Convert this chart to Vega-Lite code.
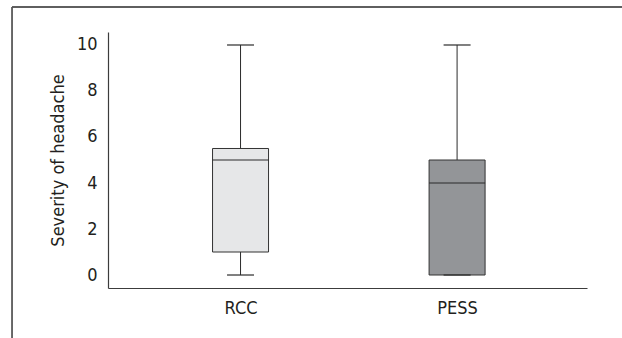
{
  "$schema": "https://vega.github.io/schema/vega-lite/v6.json",
  "width": 479,
  "height": 256,
  "autosize": {"type": "none"},
  "padding": {"left": 108, "top": 32, "right": 40, "bottom": 60},
  "background": "white",
  "config": {
    "view": {"stroke": null},
    "font": "DejaVu Sans Condensed, Liberation Sans, sans-serif",
    "axis": {"labelFont": "DejaVu Sans Condensed, Liberation Sans, sans-serif", "titleFont": "DejaVu Sans Condensed, Liberation Sans, sans-serif"}
  },
  "data": {
    "values": [
      {"group": "RCC", "min": 0, "q1": 1, "median": 5, "q3": 5.5, "max": 10},
      {"group": "PESS", "min": 0, "q1": 0, "median": 4, "q3": 5, "max": 10}
    ]
  },
  "encoding": {
    "x": {
      "field": "group",
      "type": "nominal",
      "sort": ["RCC", "PESS"],
      "scale": {"type": "point", "padding": 0.606, "align": 0.505},
      "axis": {
        "title": null,
        "labelAngle": 0,
        "ticks": false,
        "domain": true,
        "domainColor": "#3c3c3c",
        "domainWidth": 1.2,
        "labelFontSize": 18,
        "labelColor": "#231f20",
        "labelPadding": 11
      }
    }
  },
  "layer": [
    {
      "mark": {"type": "rule", "color": "#2b2b2b", "strokeWidth": 1},
      "encoding": {
        "y": {
          "field": "min",
          "type": "quantitative",
          "scale": {"domain": [-0.565, 10.565], "nice": false, "zero": false},
          "axis": {
            "title": "Severity of headache",
            "values": [0, 2, 4, 6, 8, 10],
            "ticks": false,
            "grid": false,
            "domainColor": "#3c3c3c",
            "domainWidth": 1.2,
            "labelFontSize": 18,
            "labelColor": "#231f20",
            "labelPadding": 11,
            "titleFontSize": 18,
            "titleFontWeight": "normal",
            "titleColor": "#231f20",
            "titlePadding": 9
          }
        },
        "y2": {"field": "max"}
      }
    },
    {
      "mark": {"type": "bar", "width": 56, "stroke": "#333333", "strokeWidth": 1},
      "encoding": {
        "y": {"field": "q1", "type": "quantitative"},
        "y2": {"field": "q3"},
        "fill": {
          "field": "group",
          "type": "nominal",
          "scale": {"domain": ["RCC", "PESS"], "range": ["#e6e7e8", "#939598"]},
          "legend": null
        }
      }
    },
    {
      "mark": {"type": "tick", "size": 56, "thickness": 1.2, "color": "#2b2b2b", "opacity": 1},
      "encoding": {"y": {"field": "median", "type": "quantitative"}}
    },
    {
      "mark": {"type": "tick", "size": 27, "thickness": 1.2, "color": "#2b2b2b", "opacity": 1},
      "encoding": {"y": {"field": "max", "type": "quantitative"}}
    },
    {
      "mark": {"type": "tick", "size": 27, "thickness": 1.2, "color": "#2b2b2b", "opacity": 1},
      "encoding": {"y": {"field": "min", "type": "quantitative"}}
    },
    {
      "mark": {"type": "rule", "color": "#555555", "strokeWidth": 1.3, "xOffset": -228.5, "x2Offset": 173},
      "encoding": {
        "x": {"datum": "RCC"},
        "x2": {"datum": "PESS"},
        "y": {"datum": 11.652}
      }
    },
    {
      "mark": {"type": "rule", "color": "#555555", "strokeWidth": 1.3, "xOffset": -228.5},
      "encoding": {
        "x": {"datum": "RCC"},
        "y": {"datum": 11.652},
        "y2": {"datum": -3}
      }
    }
  ]
}
